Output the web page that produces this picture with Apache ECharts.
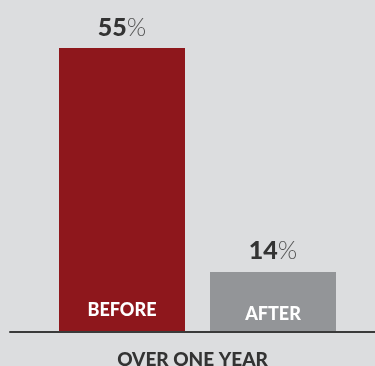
<!DOCTYPE html>
<html>
<head>
<meta charset="utf-8">
<script src="https://cdn.jsdelivr.net/npm/echarts@6/dist/echarts.min.js"></script>
<style>
  html, body { margin: 0; padding: 0; background: #dcdddf; }
  #chart { width: 375px; height: 366px; }
</style>
</head>
<body>
<div id="chart"></div>
<script>
// 数据
var categories = ['BEFORE', 'AFTER'];
var values = [55, 14];
var barColors = ['#8e171c', '#939598'];
var axisName = 'OVER ONE YEAR';

var chart = echarts.init(document.getElementById('chart'));
var font = 'Lato, "Open Sans", sans-serif';

var option = {
  backgroundColor: '#dcdddf',
  animation: false,
  grid: [
    { left: 46.5, right: 26.5, top: 48, bottom: 34, outerBoundsMode: 'none' },   // 柱子
    { left: 10, right: 0, top: 48, bottom: 34, outerBoundsMode: 'none' }          // 底部横线
  ],
  xAxis: [
    {
      type: 'category',
      gridIndex: 0,
      data: categories,
      axisLine: { show: false },
      axisTick: { show: false },
      axisLabel: { show: false }
    },
    {
      type: 'value',
      gridIndex: 1,
      min: 0,
      max: 1,
      z: 10,
      axisLine: { show: true, onZero: false, lineStyle: { color: '#3a3a3a', width: 2 } },
      axisTick: { show: false },
      axisLabel: { show: false },
      splitLine: { show: false },
      name: axisName,
      nameLocation: 'middle',
      nameGap: 18,
      nameTextStyle: { color: '#333', fontSize: 19, fontWeight: 900, fontFamily: font }
    }
  ],
  yAxis: [
    { type: 'value', gridIndex: 0, min: 3, max: 55, show: false },
    { type: 'value', gridIndex: 1, min: 0, max: 1, show: false }
  ],
  series: [
    {
      type: 'bar',
      barWidth: 126,
      data: values.map(function (v, i) {
        return { value: v, itemStyle: { color: barColors[i] } };
      }),
      label: {
        show: true,
        position: 'top',
        distance: 8,
        formatter: function (p) { return '{n|' + p.value + '}{p|%}'; },
        rich: {
          n: { fontSize: 25, fontWeight: 900, color: '#333', fontFamily: font },
          p: { fontSize: 25, fontWeight: 300, color: '#555', fontFamily: font }
        }
      }
    },
    {
      // 柱内文字
      type: 'bar',
      barWidth: 126,
      barGap: '-100%',
      silent: true,
      itemStyle: { color: 'transparent' },
      data: values.map(function (v, i) {
        return { value: v, label: { distance: i === 0 ? 13 : 9 } };
      }),
      label: {
        show: true,
        position: 'insideBottom',
        color: '#fff',
        fontSize: 18,
        fontWeight: 900,
        fontFamily: font,
        formatter: function (p) { return categories[p.dataIndex]; }
      }
    }
  ]
};
chart.setOption(option);
</script>
</body>
</html>
